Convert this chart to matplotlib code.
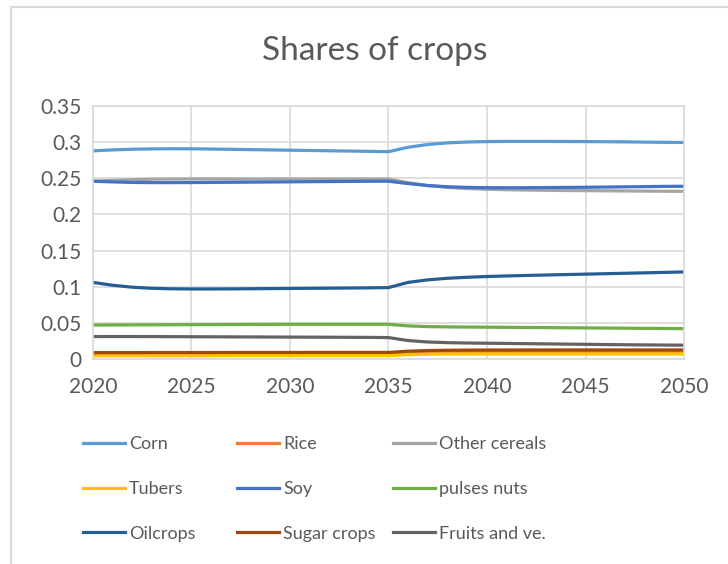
import numpy as np
import matplotlib.pyplot as plt
from matplotlib.patches import Rectangle
from matplotlib.lines import Line2D

plt.rcParams['font.family'] = ['Lato', 'DejaVu Sans']

years = np.arange(2020, 2051)

corn = [0.2880, 0.2893, 0.2902, 0.2907, 0.2909, 0.2908, 0.2905, 0.2901, 0.2897, 0.2893, 0.2889,
        0.2885, 0.2881, 0.2877, 0.2873, 0.2868, 0.2930, 0.2968, 0.2990, 0.3002, 0.3008,
        0.3010, 0.3010, 0.3010, 0.3009, 0.3008, 0.3006, 0.3004, 0.3001, 0.2998, 0.2995]
rice = [0.0070, 0.0070, 0.0070, 0.0071, 0.0071, 0.0071, 0.0071, 0.0072, 0.0072, 0.0072, 0.0072,
        0.0073, 0.0073, 0.0073, 0.0073, 0.0073, 0.0088, 0.0095, 0.0098, 0.0099, 0.0100,
        0.0100, 0.0100, 0.0100, 0.0100, 0.0100, 0.0100, 0.0100, 0.0100, 0.0100, 0.0100]
other_cereals = [0.2460, 0.2472, 0.2481, 0.2487, 0.2490, 0.2491, 0.2491, 0.2491, 0.2490, 0.2490, 0.2490,
                 0.2490, 0.2490, 0.2490, 0.2490, 0.2490, 0.2440, 0.2400, 0.2374, 0.2358, 0.2348,
                 0.2342, 0.2337, 0.2334, 0.2331, 0.2329, 0.2327, 0.2325, 0.2323, 0.2321, 0.2320]
tubers = [0.0045, 0.0045, 0.0045, 0.0046, 0.0046, 0.0046, 0.0046, 0.0047, 0.0047, 0.0047, 0.0047,
          0.0048, 0.0048, 0.0048, 0.0048, 0.0048, 0.0060, 0.0066, 0.0069, 0.0070, 0.0070,
          0.0070, 0.0070, 0.0070, 0.0070, 0.0070, 0.0070, 0.0070, 0.0070, 0.0070, 0.0070]
soy = [0.2460, 0.2450, 0.2443, 0.2440, 0.2440, 0.2441, 0.2443, 0.2445, 0.2447, 0.2449, 0.2451,
       0.2453, 0.2455, 0.2457, 0.2459, 0.2460, 0.2427, 0.2400, 0.2383, 0.2374, 0.2370,
       0.2369, 0.2370, 0.2372, 0.2374, 0.2376, 0.2379, 0.2382, 0.2385, 0.2388, 0.2390]
pulses_nuts = [0.0470, 0.0471, 0.0472, 0.0473, 0.0474, 0.0475, 0.0476, 0.0477, 0.0478, 0.0479, 0.0480,
               0.0480, 0.0480, 0.0480, 0.0480, 0.0480, 0.0458, 0.0448, 0.0444, 0.0442, 0.0440,
               0.0438, 0.0436, 0.0434, 0.0432, 0.0430, 0.0428, 0.0426, 0.0424, 0.0422, 0.0420]
oilcrops = [0.1060, 0.1020, 0.0993, 0.0978, 0.0971, 0.0969, 0.0969, 0.0970, 0.0972, 0.0974, 0.0976,
            0.0978, 0.0980, 0.0982, 0.0984, 0.0988, 0.1060, 0.1095, 0.1117, 0.1131, 0.1141,
            0.1149, 0.1156, 0.1162, 0.1168, 0.1174, 0.1180, 0.1186, 0.1192, 0.1198, 0.1205]
sugar_crops = [0.0088, 0.0088, 0.0088, 0.0089, 0.0089, 0.0089, 0.0089, 0.0090, 0.0090, 0.0090, 0.0090,
               0.0091, 0.0091, 0.0091, 0.0091, 0.0091, 0.0108, 0.0117, 0.0121, 0.0123, 0.0124,
               0.0124, 0.0125, 0.0125, 0.0125, 0.0125, 0.0125, 0.0125, 0.0125, 0.0125, 0.0125]
fruits_veg = [0.0310, 0.0311, 0.0311, 0.0310, 0.0309, 0.0308, 0.0307, 0.0306, 0.0305, 0.0304, 0.0303,
              0.0302, 0.0301, 0.0300, 0.0299, 0.0296, 0.0255, 0.0235, 0.0226, 0.0221, 0.0218,
              0.0215, 0.0212, 0.0209, 0.0206, 0.0203, 0.0200, 0.0197, 0.0195, 0.0193, 0.0191]

labels = ['Corn', 'Rice', 'Other cereals', 'Tubers', 'Soy', 'pulses nuts',
          'Oilcrops', 'Sugar crops', 'Fruits and ve.']
series = [corn, rice, other_cereals, tubers, soy, pulses_nuts,
          oilcrops, sugar_crops, fruits_veg]
colors = ['#5B9BD5', '#ED7D31', '#A5A5A5', '#FFC000', '#4472C4', '#70AD47',
          '#255E91', '#9E480E', '#636363']

text_color = '#595959'
grid_color = '#D9D9D9'

fig = plt.figure(figsize=(7.28, 5.64), dpi=100)
ax = fig.add_axes([0.1277, 0.3635, 0.8119, 0.4485])

# chart frame (only the left and top edges fall inside the image)
fig.patches.append(Rectangle((11 / 728, -0.1), 1.2, 1 - 7 / 564 + 0.1,
                             transform=fig.transFigure, fill=False,
                             edgecolor=grid_color, linewidth=1.5))

for vals, col, lab in zip(series, colors, labels):
    ax.plot(years, vals, color=col, linewidth=2.3, label=lab,
            solid_capstyle='butt', solid_joinstyle='round')

ax.set_xlim(2020, 2050)
ax.set_ylim(0, 0.35)
ax.set_xticks(np.arange(2020, 2051, 5))
ax.set_yticks(np.arange(0, 0.351, 0.05))
ax.set_yticklabels(['0', '0.05', '0.1', '0.15', '0.2', '0.25', '0.3', '0.35'])
ax.grid(True, color=grid_color, linewidth=1.2)
ax.set_axisbelow(True)
ax.tick_params(length=0, labelsize=15, colors=text_color, pad=8)
ax.tick_params(axis='x', pad=13)
for sp in ax.spines.values():
    sp.set_color(grid_color)
    sp.set_linewidth(1.2)

fig.text(0.515, 0.91, 'Shares of crops', ha='center', va='center',
         fontsize=24, color=text_color)

# legend laid out as three fixed-width columns
handles = [Line2D([], [], color=c, linewidth=2.3) for c in colors]
col_x = [83 / 728, 237 / 728, 393 / 728]
for i, x0 in enumerate(col_x):
    idx = [i, i + 3, i + 6]
    fig.legend([handles[j] for j in idx], [labels[j] for j in idx],
               loc='upper left', bbox_to_anchor=(x0, 1 - 436 / 564),
               frameon=False, fontsize=13, handlelength=2.3,
               handletextpad=0.25, labelspacing=1.6,
               borderaxespad=0, borderpad=0, labelcolor=text_color)

fig.savefig('out.png', dpi=100)
